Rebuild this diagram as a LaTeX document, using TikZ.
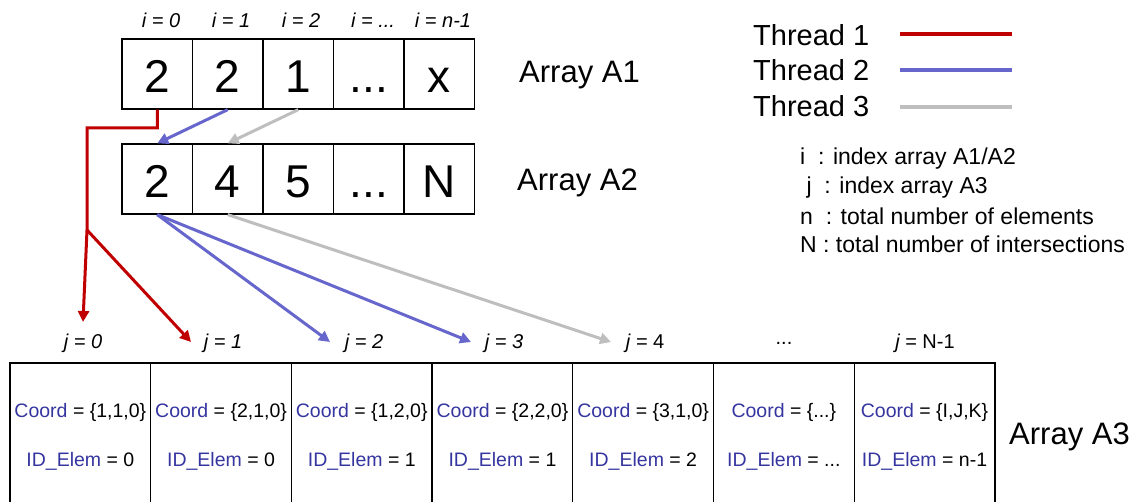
\documentclass[tikz,border=0pt]{standalone}
\usepackage{fontspec}
\setmainfont{Liberation Sans}
\usepackage{xcolor}
\usetikzlibrary{arrows.meta,positioning}
\definecolor{thrred}{HTML}{C00000}
\definecolor{thrblue}{HTML}{6666CC}
\definecolor{thrgray}{HTML}{BEBEBE}
\definecolor{crdblue}{HTML}{3535A0}
\newcommand{\crd}{\textcolor{crdblue}{Coord}}
\newcommand{\idel}{\textcolor{crdblue}{ID\_Elem}}

\begin{document}
\begin{tikzpicture}[x=1pt, y=-1pt,
  cell/.style={draw, line width=1.3pt, minimum width=70.5pt,
    minimum height=70pt, inner sep=0pt, text height=38pt, text depth=0pt,
    font=\fontsize{46}{50}\selectfont},
  bigcell/.style={draw, line width=1.3pt, minimum width=140.7pt,
    minimum height=180pt, inner sep=0pt},
  idx/.style={font=\fontsize{20}{22}\selectfont\itshape, inner sep=0pt},
  arrname/.style={font=\fontsize{31}{34}\selectfont, anchor=west, inner sep=0pt},
  thname/.style={font=\fontsize{29}{32}\selectfont, anchor=west, inner sep=0pt},
  note/.style={font=\fontsize{23}{25}\selectfont, anchor=west, inner sep=0pt},
  celltxt/.style={font=\fontsize{19.5}{22}\selectfont, inner sep=0pt},
  thr/.style={line width=3pt, -{Triangle[length=11pt, width=11pt]}},
  leg/.style={line width=4pt}
]
\clip (0,0) rectangle (1130,502);

% Array A1
\node[cell] (a1-0) at (157.25,74) {2};
\node[cell] (a1-1) at (227.75,74) {2};
\node[cell] (a1-2) at (298.25,74) {1};
\node[cell] (a1-3) at (368.75,74) {...};
\node[cell] (a1-4) at (439.25,74) {x};
\node[arrname] (nA1) at (519,75) {Array A1};

% index i
\node[idx] (i0) at (161,20) {i = 0};
\node[idx] (i1) at (231,20) {i = 1};
\node[idx] (i2) at (301,20) {i = 2};
\node[idx] (i3) at (373,20) {i = ...};
\node[idx] (i4) at (443,20) {i = n-1};

% Array A2
\node[cell] (a2-0) at (157.25,179) {2};
\node[cell] (a2-1) at (227.75,179) {4};
\node[cell] (a2-2) at (298.25,179) {5};
\node[cell] (a2-3) at (368.75,179) {...};
\node[cell] (a2-4) at (439.25,179) {N};
\node[arrname] (nA2) at (517,183) {Array A2};

% Array A3
\node[bigcell] (a3-0) at (80.35,453) {};
\node[bigcell] (a3-1) at (221.05,453) {};
\node[bigcell] (a3-2) at (361.75,453) {};
\node[bigcell] (a3-3) at (502.45,453) {};
\node[bigcell] (a3-4) at (643.15,453) {};
\node[bigcell] (a3-5) at (783.85,453) {};
\node[bigcell] (a3-6) at (924.55,453) {};
\node[arrname] (nA3) at (1009,437) {Array A3};

% index j
\node[idx] (j0) at (83,343) {j = 0};
\node[idx] (j1) at (223,343) {j = 1};
\node[idx] (j2) at (364,343) {j = 2};
\node[idx] (j3) at (504,343) {j = 3};
\node[idx] (j4) at (645,343) {j = {\upshape 4}};
\node[idx, font=\fontsize{20}{22}\selectfont] (j5) at (784,343) {...};
\node[idx] (j6) at (925,343) {j {\upshape = N-1}};

% cell contents
\node[celltxt] (c0) at (80.35,412) {\crd{} = \{1,1,0\}};
\node[celltxt] (c1) at (221.05,412) {\crd{} = \{2,1,0\}};
\node[celltxt] (c2) at (361.75,412) {\crd{} = \{1,2,0\}};
\node[celltxt] (c3) at (502.45,412) {\crd{} = \{2,2,0\}};
\node[celltxt] (c4) at (643.15,412) {\crd{} = \{3,1,0\}};
\node[celltxt] (c5) at (783.85,412) {\crd{} = \{...\}};
\node[celltxt] (c6) at (924.55,412) {\crd{} = \{I,J,K\}};
\node[celltxt] (e0) at (80.35,461) {\idel{} = 0};
\node[celltxt] (e1) at (221.05,461) {\idel{} = 0};
\node[celltxt] (e2) at (361.75,461) {\idel{} = 1};
\node[celltxt] (e3) at (502.45,461) {\idel{} = 1};
\node[celltxt] (e4) at (643.15,461) {\idel{} = 2};
\node[celltxt] (e5) at (783.85,461) {\idel{} = ...};
\node[celltxt] (e6) at (924.55,461) {\idel{} = n-1};

% Legend
\node[thname] (th1) at (753,35) {Thread 1};
\node[thname] (th2) at (753,70) {Thread 2};
\node[thname] (th3) at (753,106) {Thread 3};
\coordinate (l1a) at (900,34);  \coordinate (l1b) at (1012,34);
\coordinate (l2a) at (900,70);  \coordinate (l2b) at (1012,70);
\coordinate (l3a) at (900,107); \coordinate (l3b) at (1012,107);
\draw[leg, thrred] (l1a) -- (l1b);
\draw[leg, thrblue] (l2a) -- (l2b);
\draw[leg, thrgray] (l3a) -- (l3b);

% Notes
\node[note] (ni) at (800,159) {i \ : index array A1/A2};
\node[note] (nj) at (800,188) {\ j \ : index array A3};
\node[note] (nn) at (800,216) {n \ : total number of elements};
\node[note] (nN) at (800,244) {N : total number of intersections};

% Thread paths
\coordinate (bend) at (87,128);
\coordinate (split) at (87,230);
\coordinate (t0) at (83,322);
\coordinate (t1) at (191,342);
\coordinate (t2) at (330,342);
\coordinate (t3) at (471,342);
\coordinate (t4) at (611,342);

\draw[thr, thrred] (a1-0.south) |- (bend) -- (split) -- (t0);
\draw[thr, thrred] (split) -- (t1);
\draw[thr, thrblue] (a1-1.south) -- (a2-0.north);
\draw[thr, thrgray] (a1-2.south) -- (a2-1.north);
\draw[thr, thrblue] (a2-0.south) -- (t2);
\draw[thr, thrblue] (a2-0.south) -- (t3);
\draw[thr, thrgray] (a2-1.south) -- (t4);

\end{tikzpicture}
\end{document}
